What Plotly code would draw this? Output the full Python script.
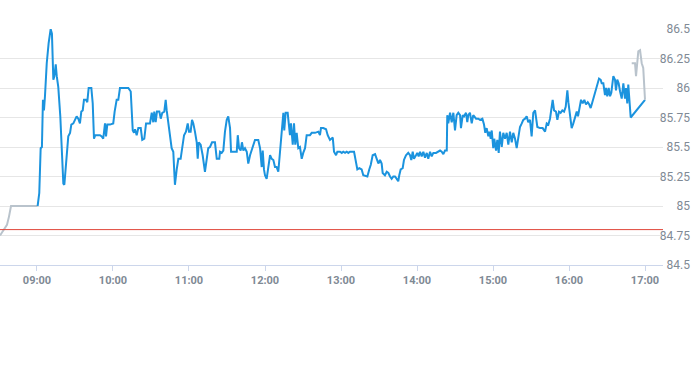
import pandas as pd
import plotly.graph_objects as go

# ---- data ----
base_time = pd.Timestamp("2024-01-02 09:00")

pre_minutes = [-29.2, -26.1, -23.7, -22.1, -20.5, 0.5]
pre_prices = [84.75, 84.80, 84.84, 84.91, 85.00, 85.00]

main_minutes = [
    0.5, 1.8, 2.9, 3.9, 4.7, 5.5, 6.3, 7.7, 9.2, 10.8, 11.8, 12.9, 13.7, 14.8, 15.6, 16.8,
    18.4, 19.7, 20.8, 21.6, 22.7, 23.4, 24.7, 26.1, 27.1, 28.7, 30.0, 31.3, 32.6, 33.9,
    35.0, 36.1, 37.1, 38.7, 39.7, 40.8, 42.9, 44.0, 45.0, 46.0, 49.7, 51.1, 52.3, 53.7,
    54.5, 55.5, 57.6, 60.2, 61.3, 62.9, 64.2, 65.5, 72.1, 74.0, 75.6, 76.6, 77.4, 78.7,
    80.0, 81.9, 83.1, 84.7, 86.1, 89.2, 90.6, 91.8, 92.6, 93.7, 94.7, 96.6, 97.7, 98.9,
    100.5, 101.6, 102.4, 103.7, 105.0, 106.3, 107.6, 108.9, 110.3, 111.6, 113.4, 115.0,
    116.1, 117.6, 119.0, 120.0, 121.3, 122.4, 123.4, 124.7, 126.1, 126.9, 127.7, 129.2,
    130.8, 132.6, 134.0, 135.2, 136.6, 138.2, 140.5, 141.9, 143.9, 144.5, 145.8, 147.1,
    148.4, 149.8, 151.0, 152.4, 153.2, 157.7, 158.5, 159.5, 160.8, 161.8, 162.9, 164.2,
    165.6, 166.8, 168.2, 169.5, 170.8, 172.1, 174.7, 176.1, 177.4, 178.2, 179.2, 180.0,
    181.3, 182.6, 184.0, 185.3, 186.6, 187.9, 189.2, 190.5, 191.8, 193.2, 194.5, 195.2,
    196.3, 197.9, 198.9, 199.7, 200.5, 201.9, 202.9, 203.9, 205.0, 206.3, 207.6, 209.0,
    210.2, 211.6, 212.9, 215.5, 216.9, 219.5, 222.1, 223.4, 224.2, 226.0, 228.2, 229.5,
    231.3, 233.5, 234.5, 236.1, 237.1, 239.2, 240.6, 241.8, 243.2, 244.5, 245.8, 247.1,
    250.3, 251.8, 252.9, 254.5, 256.3, 257.6, 260.8, 262.3, 263.5, 265.0, 266.9, 268.2,
    269.5, 270.8, 272.1, 272.9, 274.7, 276.1, 277.4, 278.7, 280.0, 281.3, 282.6, 284.0,
    285.2, 286.0, 287.1, 288.7, 289.7, 291.3, 293.1, 294.5, 295.5, 296.6, 297.6, 299.2,
    300.2, 301.3, 302.4, 303.7, 305.0, 306.3, 307.7, 308.9, 310.3, 311.6, 312.9, 315.0,
    316.8, 318.2, 319.5, 320.8, 322.1, 323.5, 323.9, 324.7, 326.1, 327.4, 328.7, 330.0,
    331.3, 332.6, 334.0, 334.7, 336.1, 337.1, 338.7, 339.7, 340.5, 341.8, 343.2, 344.4,
    346.6, 348.4, 349.7, 351.6, 352.9, 353.9, 355.0, 356.3, 357.1, 358.2, 359.0, 360.2,
    361.0, 362.4, 363.4, 364.5, 365.5, 366.9, 368.1, 369.5, 370.8, 372.1, 373.4, 374.8,
    376.0, 377.4, 378.7, 380.0, 381.3, 382.7, 383.9, 385.3, 386.6, 387.8, 389.2, 390.5,
    391.8, 393.2, 394.0, 395.0, 397.1, 399.2, 401.1, 402.4, 403.7, 405.0, 407.1, 408.2,
    409.7, 410.8, 412.1, 413.4, 414.7, 416.1, 417.4, 418.7, 419.5, 420.8, 422.1, 423.4,
    424.7, 426.1, 427.1, 428.1, 429.5, 430.8, 432.1, 433.4, 434.8, 436.0, 437.1, 438.2,
    439.7, 441.1, 442.3, 443.7, 445.0, 445.8, 447.1, 448.4, 449.2, 450.2, 451.3, 452.4,
    453.4, 455.0, 456.3, 457.1, 458.1, 459.2, 460.3, 461.6, 462.9, 464.2, 465.0, 466.0,
    466.8, 467.6, 468.7, 480.0,
]
main_prices = [
    85.00, 85.11, 85.49, 85.50, 85.90, 85.81, 85.93, 86.21, 86.38, 86.50, 86.46, 86.07,
    86.10, 86.20, 86.10, 86.01, 85.76, 85.45, 85.19, 85.18, 85.33, 85.47, 85.59, 85.62,
    85.69, 85.70, 85.73, 85.76, 85.74, 85.70, 85.80, 85.81, 85.90, 85.90, 85.88, 86.00,
    86.00, 85.87, 85.57, 85.60, 85.60, 85.59, 85.57, 85.70, 85.59, 85.69, 85.69, 85.70,
    85.80, 85.90, 85.90, 86.00, 86.00, 85.97, 85.64, 85.62, 85.65, 85.60, 85.66, 85.66,
    85.56, 85.57, 85.70, 85.70, 85.79, 85.71, 85.80, 85.71, 85.80, 85.80, 85.74, 85.79,
    85.80, 85.90, 85.81, 85.70, 85.63, 85.49, 85.46, 85.18, 85.31, 85.40, 85.40, 85.52,
    85.60, 85.63, 85.70, 85.63, 85.63, 85.73, 85.70, 85.63, 85.54, 85.40, 85.54, 85.52,
    85.43, 85.29, 85.40, 85.49, 85.50, 85.54, 85.54, 85.40, 85.40, 85.46, 85.45, 85.47,
    85.63, 85.73, 85.76, 85.66, 85.46, 85.46, 85.60, 85.49, 85.47, 85.54, 85.47, 85.49,
    85.46, 85.36, 85.43, 85.47, 85.52, 85.56, 85.56, 85.49, 85.33, 85.47, 85.31, 85.26,
    85.23, 85.33, 85.43, 85.40, 85.39, 85.33, 85.33, 85.29, 85.45, 85.64, 85.79, 85.64,
    85.79, 85.79, 85.69, 85.60, 85.70, 85.52, 85.70, 85.52, 85.62, 85.49, 85.50, 85.40,
    85.45, 85.49, 85.60, 85.60, 85.62, 85.62, 85.63, 85.60, 85.66, 85.66, 85.65, 85.60,
    85.56, 85.58, 85.46, 85.43, 85.46, 85.46, 85.45, 85.46, 85.45, 85.46, 85.45, 85.46,
    85.46, 85.36, 85.31, 85.32, 85.31, 85.26, 85.25, 85.31, 85.35, 85.43, 85.44, 85.40,
    85.36, 85.39, 85.36, 85.28, 85.26, 85.29, 85.28, 85.25, 85.23, 85.25, 85.25, 85.23,
    85.21, 85.26, 85.31, 85.32, 85.39, 85.43, 85.45, 85.43, 85.39, 85.46, 85.40, 85.43,
    85.45, 85.42, 85.46, 85.42, 85.46, 85.41, 85.45, 85.40, 85.46, 85.42, 85.45, 85.45,
    85.46, 85.47, 85.46, 85.44, 85.47, 85.47, 85.77, 85.70, 85.79, 85.71, 85.79, 85.64,
    85.77, 85.79, 85.77, 85.66, 85.77, 85.76, 85.79, 85.71, 85.77, 85.79, 85.70, 85.77,
    85.74, 85.74, 85.73, 85.74, 85.69, 85.62, 85.66, 85.59, 85.63, 85.57, 85.64, 85.49,
    85.57, 85.47, 85.56, 85.45, 85.63, 85.50, 85.62, 85.57, 85.62, 85.52, 85.63, 85.54,
    85.62, 85.57, 85.49, 85.59, 85.67, 85.70, 85.73, 85.74, 85.76, 85.71, 85.73, 85.59,
    85.79, 85.81, 85.76, 85.67, 85.66, 85.66, 85.63, 85.70, 85.69, 85.74, 85.90, 85.81,
    85.80, 85.73, 85.80, 85.79, 85.81, 85.80, 85.84, 85.98, 85.88, 85.76, 85.66, 85.70,
    85.74, 85.80, 85.76, 85.81, 85.90, 85.87, 85.90, 85.86, 85.88, 85.86, 85.83, 85.87,
    85.93, 85.98, 86.01, 86.08, 86.07, 86.04, 86.04, 85.94, 86.00, 85.93, 86.00, 85.93,
    85.96, 86.10, 86.07, 85.98, 86.07, 86.04, 85.97, 85.91, 86.04, 85.91, 86.00, 85.87,
    86.03, 85.88, 85.75, 85.90,
]

post_minutes = [469.5, 472.1, 472.9, 473.9, 474.7, 476.1, 477.4, 478.6, 480.0]
post_prices = [86.21, 86.21, 86.10, 86.21, 86.31, 86.32, 86.21, 86.17, 85.90]

previous_close = 84.80

y_tick_values = [84.5, 84.75, 85.0, 85.25, 85.5, 85.75, 86.0, 86.25, 86.5]
y_tick_labels = ["84.5", "84.75", "85", "85.25", "85.5", "85.75", "86", "86.25", "86.5"]
x_range_minutes = [-29.2, 494.2]


def to_time(minutes):
    return [base_time + pd.Timedelta(minutes=m) for m in minutes]


fig = go.Figure()
fig.add_trace(go.Scatter(x=to_time(pre_minutes), y=pre_prices, mode="lines",
                         line=dict(color="#b9c3cc", width=2), hoverinfo="skip"))
fig.add_trace(go.Scatter(x=to_time(main_minutes), y=main_prices, mode="lines",
                         line=dict(color="#1b93de", width=2), hoverinfo="x+y"))
fig.add_trace(go.Scatter(x=to_time(post_minutes), y=post_prices, mode="lines",
                         line=dict(color="#b9c3cc", width=2), hoverinfo="skip"))

fig.add_hline(y=previous_close, line=dict(color="#e0463a", width=1))

fig.update_layout(
    width=693, height=365,
    margin=dict(l=0, r=0, t=29, b=100),
    paper_bgcolor="white", plot_bgcolor="white",
    showlegend=False,
    font=dict(family="Roboto, sans-serif", color="#7f8a95"),
    xaxis=dict(
        type="date",
        domain=[0, 663 / 693],
        range=to_time(x_range_minutes),
        tickformat="%H:%M",
        dtick=3600000,
        tick0=base_time,
        showgrid=False,
        zeroline=False,
        showline=True, linecolor="#ccd6eb", linewidth=1,
        ticks="outside", ticklen=5, tickcolor="#ccd6eb",
        tickfont=dict(size=11, color="#7f8a95", family="Roboto, sans-serif", weight="bold"),
    ),
    yaxis=dict(
        side="right",
        anchor="free", position=1.0,
        range=[84.5, 86.5],
        tickvals=y_tick_values, ticktext=y_tick_labels,
        ticklabelposition="inside",
        ticklabeloverflow="allow",
        showgrid=True, gridcolor="#e6e6e6", gridwidth=1,
        zeroline=False, showline=False, ticks="",
        tickfont=dict(size=12, color="#7f8a95", family="Roboto, sans-serif"),
    ),
)

fig.write_html(
    "out.html",
    config={"displayModeBar": False},
    post_script="document.body.style.margin='0';document.body.style.padding='0';",
)
